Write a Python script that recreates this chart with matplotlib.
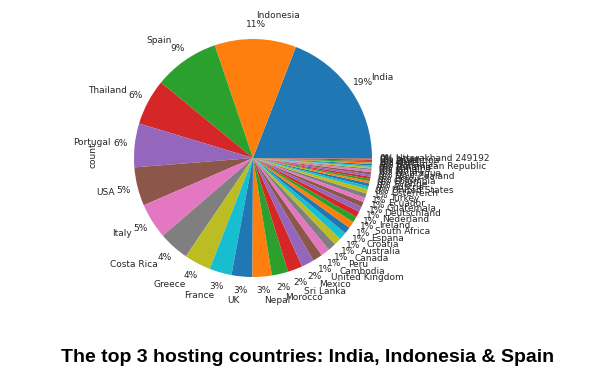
#!/usr/bin/python3

import matplotlib
matplotlib.use("Agg")
import matplotlib.pyplot as plt

#hosting countries, sorted by count (value_counts order)
countries = ["India", "Indonesia", "Spain", "Thailand", "Portugal", "USA", "Italy",
             "Costa Rica", "Greece", "France", "UK", "Nepal", "Morocco", "Sri Lanka",
             "Mexico", "United Kingdom", "Cambodia", "Peru", "Canada", "Australia",
             "Croatia", "Espana", "South Africa", "Ireland", "Nederland", "Deutschland",
             "Guatemala", "Ecuador", "Turkey", "Österreich", "United States", "Austria",
             "Sverige", "Colombia", "Brazil", "New Zealand", "Nicaragua", "India ",
             "Jamaica", "Panama", "Dominican Republic", "Bahamas", "Chile", "Argentina",
             "Japan", "Uttarakhand 249192"]

counts = [190, 110, 88, 62, 59, 52, 48,
          41, 36, 30, 28, 26, 22, 20,
          17, 13, 12, 11, 10, 10,
          9, 9, 8, 8, 7, 7,
          6, 6, 6, 4, 4, 3,
          3, 3, 3, 3, 3, 2,
          2, 2, 2, 2, 2, 2,
          1, 1]

title = "The top 3 hosting countries: India, Indonesia & Spain"

#_____________________________________________________________________________
def main():

    W, H = 613, 380
    fig = plt.figure(figsize=(W/100., H/100.), dpi=100)

    #pie centre and radius in pixels
    cx, cy, r = 253, 158, 119
    ax = fig.add_axes([(cx-r)/W, (H-cy-r)/H, 2.*r/W, 2.*r/H])

    ax.pie(counts, labels=countries, autopct="%.0f%%",
           pctdistance=1.12, labeldistance=1.2,
           textprops={"fontsize": 6.5, "color": "#262626"})

    ax.set_xlim(-1, 1)
    ax.set_ylim(-1, 1)
    ax.set_aspect("equal")
    ax.axis("off")

    #y label as pandas puts it
    fig.text(93./W, 1-155./H, "count", rotation=90, fontsize=6.5,
             color="#262626", ha="center", va="center")

    #caption below the chart
    fig.text(0.502, 1-357./H, title, fontsize=14, fontweight="bold",
             family="Liberation Sans", ha="center", va="center")

    fig.savefig("out.png", dpi=100)

#main

#_____________________________________________________________________________
if __name__ == "__main__":

    main()
